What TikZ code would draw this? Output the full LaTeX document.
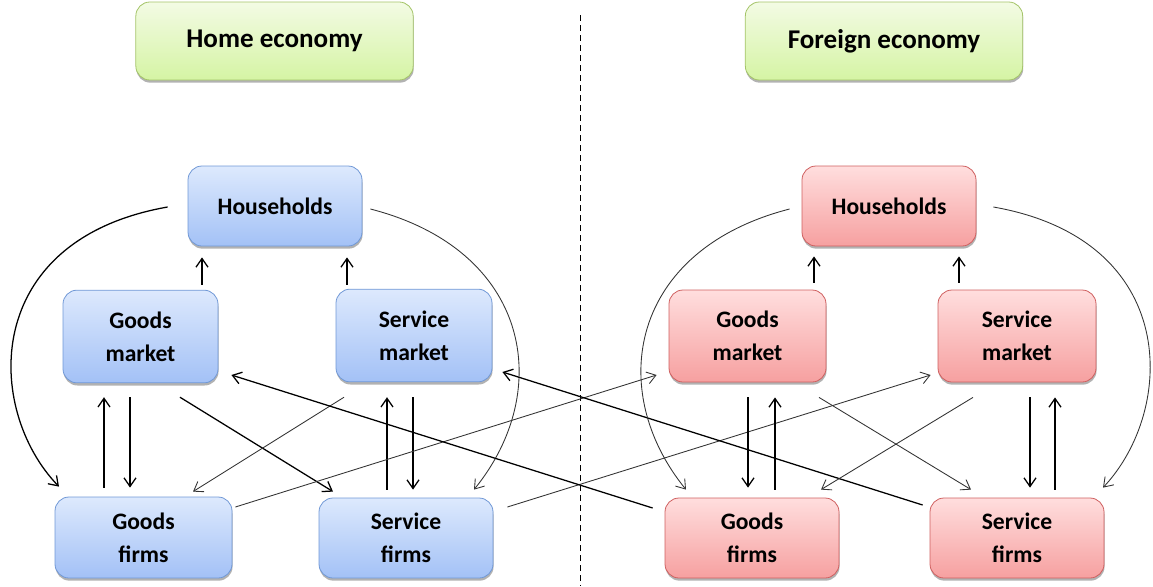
\documentclass[tikz,border=0pt]{standalone}
\usepackage{fontspec}
\setmainfont{Carlito}
\usetikzlibrary{arrows.meta,calc,shadows}
\definecolor{bluetop}{HTML}{DDE9FD}
\definecolor{bluebot}{HTML}{A3C1F6}
\definecolor{blueline}{HTML}{7098D6}
\definecolor{redtop}{HTML}{FFDEDE}
\definecolor{redbot}{HTML}{F6A0A0}
\definecolor{redline}{HTML}{CF5F5F}
\definecolor{greentop}{HTML}{F3FBE4}
\definecolor{greenbot}{HTML}{D5F4A4}
\definecolor{greenline}{HTML}{A4C468}
\definecolor{thinline}{HTML}{333333}
\tikzset{
  box/.style={rounded corners=10.5pt, inner sep=0pt, align=center, line width=0.6pt,
    font=\bfseries\fontsize{17.7}{24.7}\selectfont,
    drop shadow={shadow xshift=0.4pt, shadow yshift=-2pt, opacity=0.3, fill=black}},
  homebox/.style={box, draw=blueline, top color=bluetop, bottom color=bluebot},
  forbox/.style={box, draw=redline, top color=redtop, bottom color=redbot},
  titlebox/.style={box, draw=greenline, top color=greentop, bottom color=greenbot,
    font=\bfseries\fontsize{20.3}{24}\selectfont,
    minimum width=208pt, minimum height=58.5pt},
  hhsize/.style={minimum width=130.5pt, minimum height=60pt},
  mksize/.style={minimum width=117pt, minimum height=69.5pt},
  firmsize/.style={minimum width=130.5pt, minimum height=60pt},
  thickarr/.style={draw=black, line width=0.95pt, -{Straight Barb[length=6.5pt,width=9pt]}},
  thinarr/.style={draw=thinline, line width=0.65pt, -{Straight Barb[length=6.5pt,width=9pt]}},
}
\begin{document}
\begin{tikzpicture}[x=0.75pt,y=-0.75pt]
\useasboundingbox (0,0) rectangle (1153,586);
% titles
\node[titlebox] (home) at (274.5,41) {\raisebox{-1.5pt}{Home economy}};
\node[titlebox] (foreign) at (884,41) {\raisebox{-1.5pt}{Foreign economy}};
% separator
\coordinate (septop) at (580,15);
\coordinate (sepbot) at (580,586);
\draw[line width=0.7pt, dash pattern=on 4.5pt off 3pt] (septop) -- (sepbot);
% home economy
\node[homebox, hhsize] (HH) at (275,206) {Households};
\node[homebox, mksize, minimum width=116.25pt] (GM) at (140.5,336.5) {Goods\\market};
\node[homebox, mksize] (SM) at (414,335.5) {Service\\market};
\node[homebox, firmsize, minimum width=132.75pt, minimum height=60.75pt] (GF) at (143.5,537.5) {Goods\\firms};
\node[homebox, firmsize] (SF) at (406,538) {Service\\firms};
% foreign economy
\node[forbox, hhsize] (fHH) at (889,206) {Households};
\node[forbox, mksize, minimum width=117.75pt, minimum height=69pt] (fGM) at (747.5,336) {Goods\\market};
\node[forbox, mksize, minimum width=118.5pt, minimum height=69pt] (fSM) at (1017,336) {Service\\market};
\node[forbox, firmsize] (fGF) at (752,538) {Goods\\firms};
\node[forbox, firmsize] (fSF) at (1017,538) {Service\\firms};

% ---- home arrows
\draw[thickarr] ($(HH.west)+(-20,1)$) .. controls (-20,240) and (-15,410) .. ($(GF.north)+(-84.5,-10)$);
\draw[thinarr] ($(HH.east)+(8,3)$) .. controls (530,250) and (555,390) .. ($(SF.north)+(68,-8)$);
\draw[thickarr] ($(GM.north)+(61.5,-5)$) -- ($(HH.south)+(-73,11)$);
\draw[thickarr] ($(SM.north)+(-67,-4)$) -- ($(HH.south)+(72,11)$);
\draw[thickarr] ($(GF.north)+(-39.5,-9)$) -- ($(GM.south)+(-36.5,14)$);
\draw[thickarr] ($(GM.south)+(-10.5,14)$) -- ($(GF.north)+(-13.5,-9)$);
\draw[thickarr] ($(SF.north)+(-19,-8)$) -- ($(SM.south)+(-27,15)$);
\draw[thickarr] ($(SM.south)+(-1,15)$) -- ($(SF.north)+(7,-8)$);
\draw[thickarr] ($(GM.south)+(39.5,14)$) -- ($(SF.north)+(-73,-6)$);
\draw[thinarr] ($(SM.south)+(-70,15)$) -- ($(GF.north)+(49.5,-5)$);
% ---- cross-border arrows
\draw[thinarr] ($(GF.east)+(3,-30.5)$) -- ($(fGM.west)+(-12,39)$);
\draw[thinarr] ($(SF.east)+(14,-31)$) -- ($(fSM.west)+(-7,39)$);
\draw[thickarr] ($(fGF.west)+(-12,-30)$) -- ($(GM.east)+(13,38.5)$);
\draw[thickarr] ($(fSF.west)+(-7,-33)$) -- ($(SM.east)+(10,36.5)$);
% ---- foreign arrows
\draw[thinarr] ($(fHH.west)+(-12,3)$) .. controls (630,250) and (605,390) .. ($(fGF.north)+(-66,-8)$);
\draw[thinarr] ($(fHH.east)+(17,1)$) .. controls (1181,240) and (1176,410) .. ($(fSF.north)+(86,-10)$);
\draw[thickarr] ($(fGM.north)+(66.5,-7)$) -- ($(fHH.south)+(-75,10)$);
\draw[thickarr] ($(fSM.north)+(-58,-7)$) -- ($(fHH.south)+(70,10)$);
\draw[thickarr] ($(fGM.south)+(0.5,15)$) -- ($(fGF.north)+(-4,-10)$);
\draw[thickarr] ($(fGF.north)+(23,-8)$) -- ($(fGM.south)+(27.5,15)$);
\draw[thickarr] ($(fSM.south)+(13,15)$) -- ($(fSF.north)+(13,-10)$);
\draw[thickarr] ($(fSF.north)+(38,-8)$) -- ($(fSM.south)+(38,15)$);
\draw[thinarr] ($(fGM.south)+(71.5,15)$) -- ($(fSF.north)+(-46,-8)$);
\draw[thinarr] ($(fSM.south)+(-44,15)$) -- ($(fGF.north)+(69,-8)$);
\end{tikzpicture}
\end{document}
